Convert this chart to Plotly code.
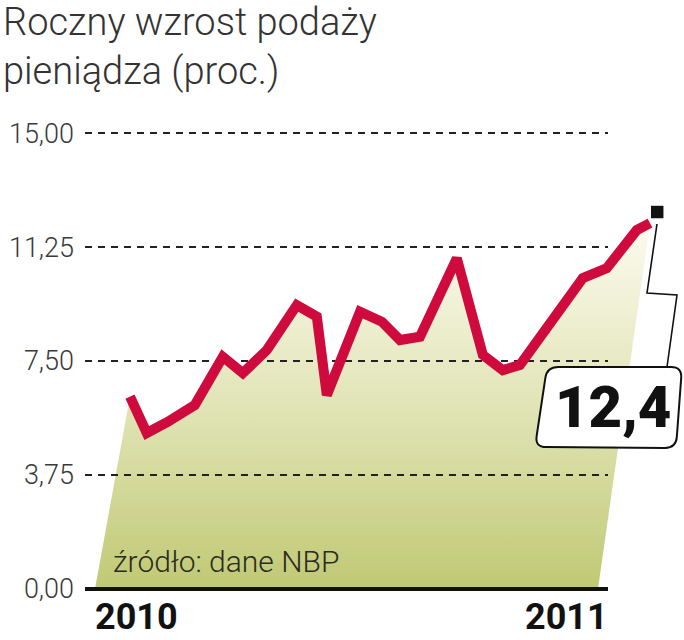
import math
import plotly.graph_objects as go

# ---------------- data ----------------
title_lines = ["Roczny wzrost podaży", "pieniądza (proc.)"]
source_text = "źródło: dane NBP"
year_labels = ["2010", "2011"]
y_tick_vals = [0, 3.75, 7.5, 11.25, 15]
y_tick_text = ["0,00", "3,75", "7,50", "11,25", "15,00"]

# position along the time axis (months from start of 2010) and annual growth (%)
month_pos = [0, 0.42, 0.95, 1.62, 2.32, 2.82, 3.42, 4.17, 4.67, 4.92, 5.75,
             6.3, 6.75, 7.25, 8.17, 8.82, 9.32, 9.75, 11.32, 11.92, 12.67, 13.0]
growth = [6.33, 5.13, 5.50, 6.05, 7.64, 7.10, 7.86, 9.34, 8.96, 6.38, 9.12,
          8.79, 8.19, 8.30, 10.88, 7.70, 7.20, 7.37, 10.23, 10.56, 11.81, 12.04]

latest_pos = 13.18
latest_value = 12.4
latest_label = "12,4"

fill_base = [-0.875, 11.7]   # slanted foot of the shaded area
grid_end = 11.95             # where the grid lines stop

# ---------------- layout geometry ----------------
FW, FH = 684, 640
ML, MR, MT, MB = 85, 0, 124, 42
PW, PH = FW - ML - MR, FH - MT - MB
X_RANGE = [-1.125, 13.85]
Y_RANGE = [-0.3, 15.3]


def px(x):
    return (x - ML) / PW


def py(y):
    return (FH - MB - y) / PH


def rounded_path(pts, r):
    segs = []
    n = len(pts)
    for i in range(n):
        cx, cy = pts[i]
        p = pts[i - 1]
        q = pts[(i + 1) % n]
        d1 = math.hypot(p[0] - cx, p[1] - cy)
        d2 = math.hypot(q[0] - cx, q[1] - cy)
        a = (cx + r * (p[0] - cx) / d1, cy + r * (p[1] - cy) / d1)
        b = (cx + r * (q[0] - cx) / d2, cy + r * (q[1] - cy) / d2)
        segs.append((a, (cx, cy), b))
    out = []
    for i, (a, c, b) in enumerate(segs):
        cmd = "M" if i == 0 else "L"
        out.append(f"{cmd}{px(a[0]):.5f},{py(a[1]):.5f}")
        out.append(f"Q{px(c[0]):.5f},{py(c[1]):.5f} {px(b[0]):.5f},{py(b[1]):.5f}")
    out.append("Z")
    return " ".join(out)


LINE_RED = "#cf0a3c"
FONT = "Roboto"

fig = go.Figure()

# shaded area
fig.add_trace(go.Scatter(
    x=[fill_base[0]] + month_pos + [fill_base[1]],
    y=[0] + growth + [0],
    mode="lines", fill="toself", line=dict(width=0),
    fillgradient=dict(type="vertical", start=0, stop=12.4,
                      colorscale=[[0, "rgb(192,201,116)"],
                                  [0.5, "rgb(226,229,184)"],
                                  [1, "rgb(253,252,242)"]]),
    hoverinfo="skip", showlegend=False))

# grid lines (above the area, below the line)
for v in y_tick_vals:
    if v == 0:
        fig.add_trace(go.Scatter(x=[X_RANGE[0], grid_end], y=[v, v], mode="lines",
                                 line=dict(color="#111111", width=4),
                                 hoverinfo="skip", showlegend=False))
    else:
        fig.add_trace(go.Scatter(x=[X_RANGE[0], grid_end], y=[v, v], mode="lines",
                                 line=dict(color="#222222", width=2, dash="7px,6px"),
                                 hoverinfo="skip", showlegend=False))

# the data line
fig.add_trace(go.Scatter(x=month_pos, y=growth, mode="lines",
                         line=dict(color=LINE_RED, width=10),
                         hoverinfo="skip", showlegend=False))

# latest point marker
fig.add_trace(go.Scatter(x=[latest_pos], y=[latest_value], mode="markers",
                         marker=dict(symbol="square", size=14, color="#111111",
                                     line=dict(color="white", width=1.5)),
                         cliponaxis=False, hoverinfo="skip", showlegend=False))

# callout leader and box
leader = [(657, 224), (647, 293), (677, 295), (667, 367)]
fig.add_shape(type="path",
              path="M" + " L".join(f"{px(a):.5f},{py(b):.5f}" for a, b in leader),
              xref="paper", yref="paper", line=dict(color="#111111", width=1.6),
              layer="above")
box = [(547, 367), (682, 367), (676, 448), (535, 447)]
fig.add_shape(type="path", path=rounded_path(box, 11), xref="paper", yref="paper",
              line=dict(color="#111111", width=2), fillcolor="white", layer="above")

annotations = [
    dict(text="<br>".join(title_lines), x=px(1), y=py(-2), xanchor="left", yanchor="top",
         align="left", font=dict(family=FONT, size=38, color="#333333", weight=300)),
    dict(text=source_text, x=px(111), y=py(561), xanchor="left", yanchor="middle",
         font=dict(family=FONT, size=30, color="#2b2b1e", weight=300)),
    dict(text=year_labels[0], x=px(93), y=py(617), xanchor="left", yanchor="middle",
         font=dict(family=FONT, size=36, color="#111111", weight="bold")),
    dict(text=year_labels[1], x=px(610), y=py(617), xanchor="right", yanchor="middle",
         font=dict(family=FONT, size=36, color="#111111", weight="bold")),
    dict(text=latest_label, x=px(613), y=py(407), xanchor="center", yanchor="middle",
         font=dict(family=FONT, size=58, color="#111111", weight=900)),
]
for a in annotations:
    a.update(xref="paper", yref="paper", showarrow=False)

fig.update_layout(
    width=FW, height=FH,
    margin=dict(l=ML, r=MR, t=MT, b=MB, pad=0),
    paper_bgcolor="white", plot_bgcolor="white",
    annotations=annotations,
    xaxis=dict(range=X_RANGE, showgrid=False, zeroline=False, showticklabels=False,
               showline=False, fixedrange=True),
    yaxis=dict(range=Y_RANGE, showgrid=False, zeroline=False, showline=False,
               tickvals=y_tick_vals, ticktext=y_tick_text, ticks="",
               ticklabelstandoff=10,
               tickfont=dict(family=FONT, size=27, color="#3a3a3a", weight=300),
               fixedrange=True),
    showlegend=False,
)

fig.write_html("out.html", config={"displayModeBar": False},
               post_script="document.body.style.margin='0';document.body.style.overflow='hidden';")
